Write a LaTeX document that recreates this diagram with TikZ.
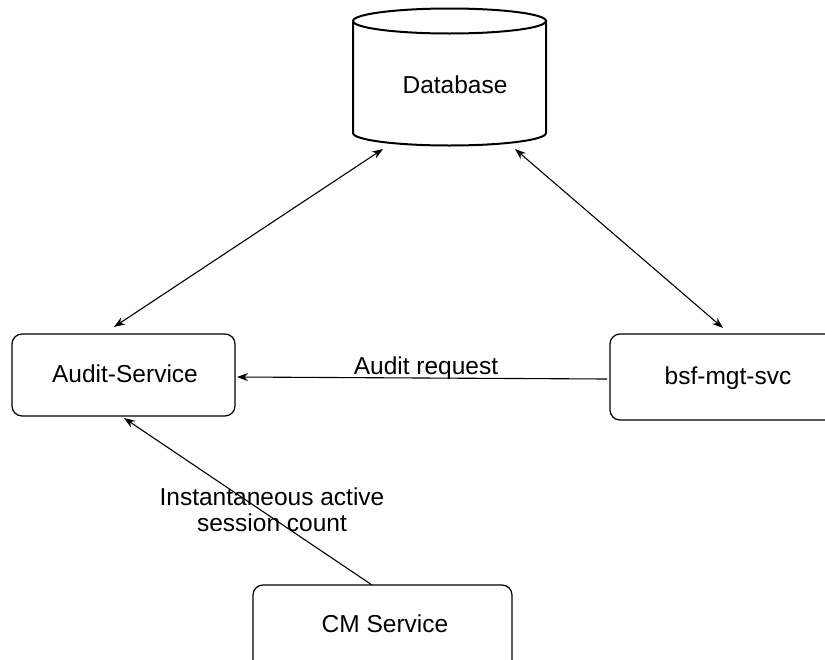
\documentclass[tikz,border=0pt]{standalone}
\usepackage{fontspec}
\setmainfont{Liberation Sans}
\usetikzlibrary{arrows.meta}
\begin{document}
\begin{tikzpicture}[x=1pt,y=-1pt,
  every node/.style={font=\fontsize{24.5}{26}\selectfont},
  svc/.style={draw, line width=1.2pt, rounded corners=10pt, inner sep=0pt},
  conn/.style={line width=1.1pt, -{Stealth[length=11pt,width=8pt]}},
  bidir/.style={line width=1.1pt, {Stealth[length=11pt,width=8pt]}-{Stealth[length=11pt,width=8pt]}},
  lbl/.style={align=center, inner sep=0pt}]
\useasboundingbox (0,0) rectangle (825,659);
\clip (0,0) rectangle (825,659);
% database cylinder
\draw[line width=2pt] (353,21) -- (353,133) arc[start angle=180,end angle=0,x radius=96.5,y radius=12.5] -- (546,21);
\draw[line width=2pt] (449.5,21) ellipse[x radius=96.5,y radius=12.5];
\node[lbl] (db) at (455,85) {Database};
\coordinate (dbL) at (383,149);
\coordinate (dbR) at (515,149);
% services
\node[svc, minimum width=223pt, minimum height=82pt] (audit) at (123.5,375) {};
\node[lbl] (audittxt) at (125,374) {Audit-Service};
\node[svc, minimum width=236pt, minimum height=86pt] (bsf) at (728,377) {};
\node[lbl] (bsftxt) at (728,378) {bsf-mgt-svc};
\node[svc, minimum width=259pt, minimum height=100pt] (cm) at (382.5,635) {};
\node[lbl] (cmtxt) at (385,624) {CM Service};
% connector end points
\coordinate (auditTop) at (114,327);
\coordinate (auditRight) at (237,377);
\coordinate (auditBot) at (124,418);
\coordinate (bsfTop) at (723,328);
\coordinate (bsfLeft) at (607,379);
\coordinate (cmTop) at (372,585);
% connectors
\draw[bidir] (dbL) -- (auditTop);
\draw[bidir] (dbR) -- (bsfTop);
\draw[conn] (bsfLeft) -- (auditRight);
\draw[conn] (cmTop) -- (auditBot);
% labels
\node[lbl] (reqlbl) at (426,368) {Audit request};
\node[lbl] (cntlbl) at (272,510) {Instantaneous active\\[0pt]session count};
\end{tikzpicture}
\end{document}
